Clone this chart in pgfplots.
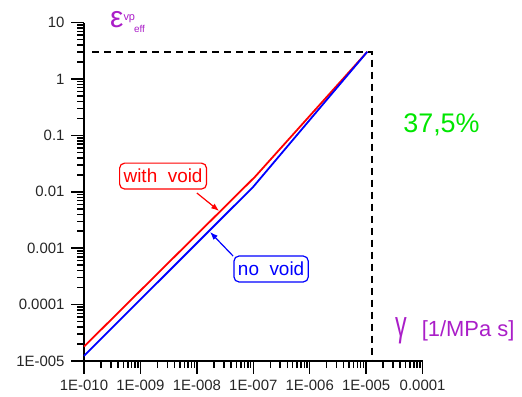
\documentclass[border=0pt]{standalone}
\usepackage{fontspec}
\setmainfont{Liberation Sans}
\usepackage{pgfplots}
\pgfplotsset{compat=1.18}
\usetikzlibrary{arrows.meta}
\definecolor{lblpurple}{RGB}{170,30,200}
\definecolor{pctgreen}{RGB}{0,230,0}
\begin{document}
\begin{tikzpicture}[x=1bp,y=1bp]
\useasboundingbox (-84,-35) rectangle (438,361);
\begin{axis}[at={(0,0)}, anchor=south west, scale only axis,
  width=338.6bp, height=338.4bp,
  xmode=log, ymode=log, xmin=1e-10, xmax=1e-4, ymin=1e-5, ymax=10,
  axis lines*=left, clip=false,
  axis line style={line width=1.6bp},
  tick align=outside,
  major tick length=13bp, minor tick length=7bp,
  every tick/.style={black, line width=1.5bp},
  xtick={1e-10,1e-9,1e-8,1e-7,1e-6,1e-5,1e-4},
  xticklabels={1E-010,1E-009,1E-008,1E-007,1E-006,1E-005,0.0001},
  ytick={1e-5,1e-4,1e-3,1e-2,1e-1,1,10},
  yticklabels={1E-005,0.0001,0.001,0.01,0.1,1,10},
  minor xtick={2e-10,3e-10,4e-10,5e-10,6e-10,7e-10,8e-10,9e-10,
    2e-9,3e-9,4e-9,5e-9,6e-9,7e-9,8e-9,9e-9,
    2e-8,3e-8,4e-8,5e-8,6e-8,7e-8,8e-8,9e-8,
    2e-7,3e-7,4e-7,5e-7,6e-7,7e-7,8e-7,9e-7,
    2e-6,3e-6,4e-6,5e-6,6e-6,7e-6,8e-6,9e-6,
    2e-5,3e-5,4e-5,5e-5,6e-5,7e-5,8e-5,9e-5},
  minor ytick={2e-5,3e-5,4e-5,5e-5,6e-5,7e-5,8e-5,9e-5,
    2e-4,3e-4,4e-4,5e-4,6e-4,7e-4,8e-4,9e-4,
    2e-3,3e-3,4e-3,5e-3,6e-3,7e-3,8e-3,9e-3,
    2e-2,3e-2,4e-2,5e-2,6e-2,7e-2,8e-2,9e-2,
    2e-1,3e-1,4e-1,5e-1,6e-1,7e-1,8e-1,9e-1,
    2,3,4,5,6,7,8,9},
  ticklabel style={font=\fontsize{15}{15}\selectfont, text=black!85},
  xticklabel style={yshift=-3bp},
  yticklabel style={xshift=-3bp},
]
\addplot[red, line width=1.8bp] coordinates {(1e-10,1.8e-5) (1.08e-7,0.0186) (1.05e-5,3.05)};
\addplot[blue, line width=1.8bp] coordinates {(1e-10,1.23e-5) (1e-7,0.0123) (1.05e-5,3.05)};
\addplot[black, line width=2bp, dash pattern=on 7bp off 5bp] coordinates {(1.4e-10,3.05) (1.29e-5,3.05) (1.29e-5,1e-5)};

\node[draw=red, rounded corners=5bp, text=red, line width=1.2bp, inner xsep=4bp, inner ysep=6bp,
  font=\fontsize{19}{19}\selectfont] at (axis cs:2.52e-9,0.0190) {with\ \ void};
\draw[red, line width=1.2bp, -{Latex[length=8bp,width=6bp]}] (axis cs:1.0e-8,0.00953) -- (axis cs:2.48e-8,0.00457);
\node[draw=blue, rounded corners=5bp, text=blue, line width=1.2bp, inner xsep=4bp, inner ysep=6bp,
  font=\fontsize{19}{19}\selectfont] at (axis cs:2.07e-7,4.28e-4) {no\ \ void};
\draw[blue, line width=1.2bp, -{Latex[length=8bp,width=6bp]}] (axis cs:4.38e-8,7.28e-4) -- (axis cs:1.71e-8,1.94e-3);

\node[anchor=base, inner sep=0pt, text=pctgreen, font=\fontsize{27}{27}\selectfont] at (rel axis cs:1.0558,0.6738) {37,5\%};
\node[anchor=base west, inner sep=0pt, text=lblpurple] at (rel axis cs:0.0768,0.987)
  {{\fontsize{30}{30}\selectfont ε}{\fontsize{11}{11}\selectfont\raisebox{7bp}{vp}\kern-1bp\raisebox{-5bp}{\fontsize{10}{10}\selectfont eff}}};
\node[anchor=base west, inner sep=0pt, text=lblpurple] at (rel axis cs:0.9185,0.0739)
  {\scalebox{0.65}[1]{\fontsize{36}{36}\selectfont γ}\hspace{15bp}{\fontsize{22}{22}\selectfont [1/MPa s]}};
\end{axis}
\end{tikzpicture}
\end{document}
